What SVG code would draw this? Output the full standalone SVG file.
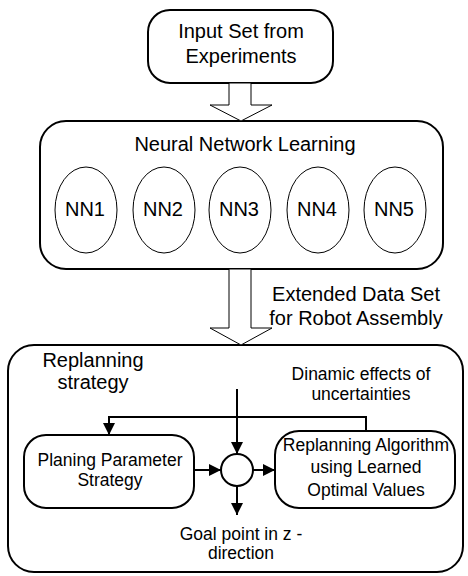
<svg xmlns="http://www.w3.org/2000/svg" width="468" height="576" viewBox="0 0 468 576">
<defs>
<style>
.box{fill:#fff;stroke:#000;stroke-width:2}
.ell{fill:#fff;stroke:#000;stroke-width:1}
.hol{fill:#fff;stroke:#000;stroke-width:1}
.ln{fill:none;stroke:#000;stroke-width:2}
text{font-family:"Liberation Sans",Arial,sans-serif;fill:#000;text-anchor:middle}
.t18{font-size:20px}
.t16{font-size:17.5px}
.t15{font-size:17.5px}
</style>
<marker id="ah" viewBox="0 0 12 12" refX="12" refY="6" markerWidth="12" markerHeight="12" markerUnits="userSpaceOnUse" orient="auto">
<path d="M0,0 L12,6 L0,12 Z" fill="#000"/>
</marker>
</defs>
<rect width="468" height="576" fill="#fff"/>
<g id="input">
<rect class="box" x="148" y="10" width="185" height="73" rx="22"/>
<text class="t18" x="241" y="38">Input Set from</text>
<text class="t18" x="241" y="63">Experiments</text>
</g>
<g id="nnl">
<rect class="box" x="40" y="121" width="403" height="148" rx="26"/>
<text class="t18" x="245" y="151">Neural Network Learning</text>
</g>
<g id="nn1"><ellipse class="ell" cx="86" cy="210" rx="31" ry="43"/><text class="t18" x="85" y="216">NN1</text></g>
<g id="nn2"><ellipse class="ell" cx="164" cy="210" rx="31" ry="43"/><text class="t18" x="163" y="216">NN2</text></g>
<g id="nn3"><ellipse class="ell" cx="240" cy="210" rx="31" ry="43"/><text class="t18" x="239" y="216">NN3</text></g>
<g id="nn4"><ellipse class="ell" cx="318" cy="210" rx="31" ry="43"/><text class="t18" x="317" y="216">NN4</text></g>
<g id="nn5"><ellipse class="ell" cx="395" cy="210" rx="31" ry="43"/><text class="t18" x="394" y="216">NN5</text></g>
<g id="replan">
<rect class="box" x="8" y="345" width="455" height="227" rx="26"/>
<text class="t18" x="93" y="367">Replanning</text>
<text class="t18" x="93" y="389">strategy</text>
<text class="t15" x="361" y="380">Dinamic effects of</text>
<text class="t15" x="361" y="400">uncertainties</text>
</g>
<g id="planing">
<rect class="box" x="24" y="435" width="170" height="73" rx="22"/>
<text class="t16" x="110" y="466">Planing Parameter</text>
<text class="t16" x="110" y="486">Strategy</text>
</g>
<g id="sum">
<circle class="box" cx="237" cy="470" r="16"/>
</g>
<g id="algo">
<rect class="box" x="275" y="431" width="180" height="77" rx="24"/>
<text class="t16" x="366" y="451">Replanning Algorithm</text>
<text class="t16" x="366" y="473">using Learned</text>
<text class="t16" x="366" y="496">Optimal Values</text>
</g>
<g id="goal">
<text class="t16" x="241" y="540">Goal point in z -</text>
<text class="t16" x="241" y="559">direction</text>
</g>
<g id="data-label">
<text class="t18" x="356" y="301">Extended Data Set</text>
<text class="t18" x="356" y="325">for Robot Assembly</text>
</g>
<g id="connectors">
<polygon class="hol" points="229,83 251,83 251,105 272,105 241,121 210,105 229,105"/>
<polygon class="hol" points="229,269 251,269 251,328 272,328 241,345 210,328 229,328"/>
<line class="ln" x1="237" y1="389" x2="237" y2="454" marker-end="url(#ah)"/>
<polyline class="ln" points="366,431 366,417 109,417 109,435" marker-end="url(#ah)"/>
<line class="ln" x1="194" y1="470" x2="221" y2="470" marker-end="url(#ah)"/>
<line class="ln" x1="253" y1="470" x2="275" y2="470" marker-end="url(#ah)"/>
<line class="ln" x1="237" y1="486" x2="237" y2="515" marker-end="url(#ah)"/>
</g>
</svg>
